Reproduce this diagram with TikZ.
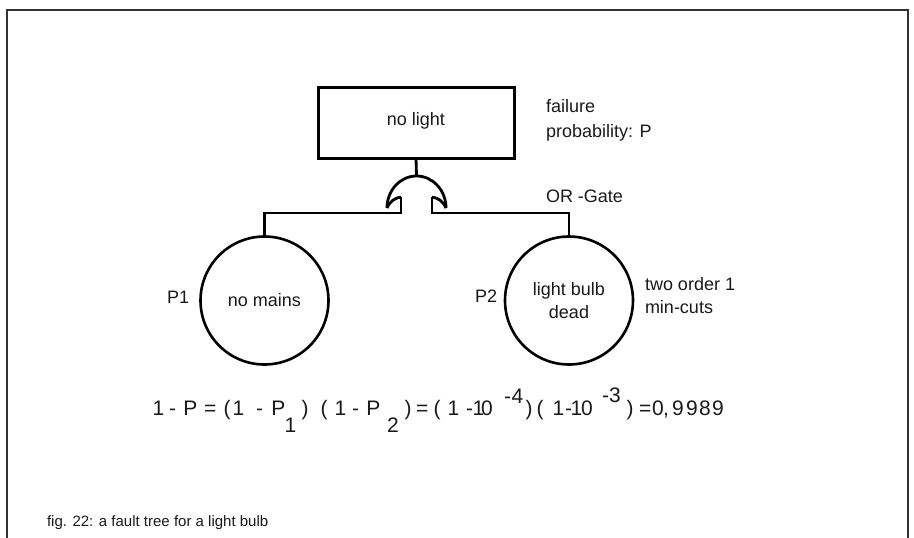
\documentclass[tikz,border=0pt]{standalone}
\usepackage{fontspec}
\setmainfont{Liberation Sans}
\begin{document}
\begin{tikzpicture}[x=1pt, y=-1pt,
  lbl/.style={inner sep=0pt, outer sep=0pt, text=black!90,
              font=\fontsize{18}{23}\selectfont},
  eqtok/.style={inner sep=0pt, outer sep=0pt, anchor=base west, text=black!90,
              font=\fontsize{21}{24}\selectfont},
  eventbox/.style={draw, line width=3pt, rectangle, minimum width=196pt,
              minimum height=71pt, inner sep=0pt, outer sep=0pt},
  basicevent/.style={draw, line width=2.6pt, circle, minimum size=128pt,
              inner sep=0pt, outer sep=0pt, align=center, text=black!90,
              font=\fontsize{18}{23}\selectfont},
  wire/.style={line width=2.8pt},
  frameline/.style={line width=1.6pt, draw=black!80}]

\useasboundingbox (0,0) rectangle (914,538);

% open frame (no bottom edge)
\draw[frameline] (7,538) -- (7,10) -- (908,10) -- (908,538);

% top event
\node[eventbox] (top) at (416,122.5) {};
\node[lbl, anchor=base] (toptext) at (416,125) {no light};
% multi-line labels: the base anchor sits on the last line
\node[lbl, anchor=base west, align=left, font=\fontsize{18}{25}\selectfont]
  (fail) at (546,137) {failure\\probability: P};

% OR gate
\coordinate (gapex) at (416.5,176);
\coordinate (gl) at (387,208);
\coordinate (gr) at (446,208);
\coordinate (inL) at (401,197);
\coordinate (inR) at (432,197);
\draw[wire, line cap=butt]
  (gl) .. controls (387,190.3) and (400.2,176) .. (gapex)
       .. controls (432.8,176) and (446,190.3) .. (gr);
\draw[wire] (gl) .. controls (390,201) and (395,198) .. (inL);
\draw[wire] (gr) .. controls (443,201) and (438,198) .. (inR);
\node[lbl, anchor=base west] (orlabel) at (546,202) {OR -Gate};

% basic events
\node[basicevent] (mains) at (264.5,300.5) {no mains};
\node[basicevent] (bulb) at (569,300.5) {light bulb\\dead};
\node[lbl, anchor=base west] (p1) at (167,303) {P1};
\node[lbl, anchor=base west] (p2) at (475,302) {P2};
\node[lbl, anchor=base west, align=left] (cuts) at (645,313) {two order 1\\min-cuts};

% connectors
\draw[wire] (top.south) -- (gapex);
\draw[wire] (mains.north) |- (401,213) -- (inL);
\draw[wire] (bulb.north) |- (432,213) -- (inR);

% probability formula, set glyph by glyph with its wide spacing
\foreach \px/\py/\tk [count=\k] in {
  152.7/415/1, 169/415/-, 183.3/415/P, 204/415/=, 223.6/415/(, 232.7/415/1,
  256/415/-, 271.3/415/P, 284.7/432/1, 301.5/415/), 320.6/415/(, 334.7/415/1,
  352/415/-, 366.3/415/P, 387/432/2, 404.5/415/), 416/415/=, 433.6/415/(,
  447.7/415/1, 466/415/-, 472.7/415/1, 481/415/0, 504/403/-, 511.5/403/4,
  525.5/415/), 536.6/415/(, 552.7/415/1, 565/415/-, 570.7/415/1, 581/415/0,
  602/402.5/-, 609/402.5/3, 626.5/415/), 639/415/=, 652/415/0, 663/415/{,},
  672/415/9, 686/415/9, 699/415/8, 712/415/9}
  \node[eqtok, name=eq\k] at (\px,\py) {\tk};

% caption
\node[lbl, anchor=base west, font=\fontsize{15}{18}\selectfont] (caption)
  at (47,526) {fig. 22: a fault tree for a light bulb};
\end{tikzpicture}
\end{document}
